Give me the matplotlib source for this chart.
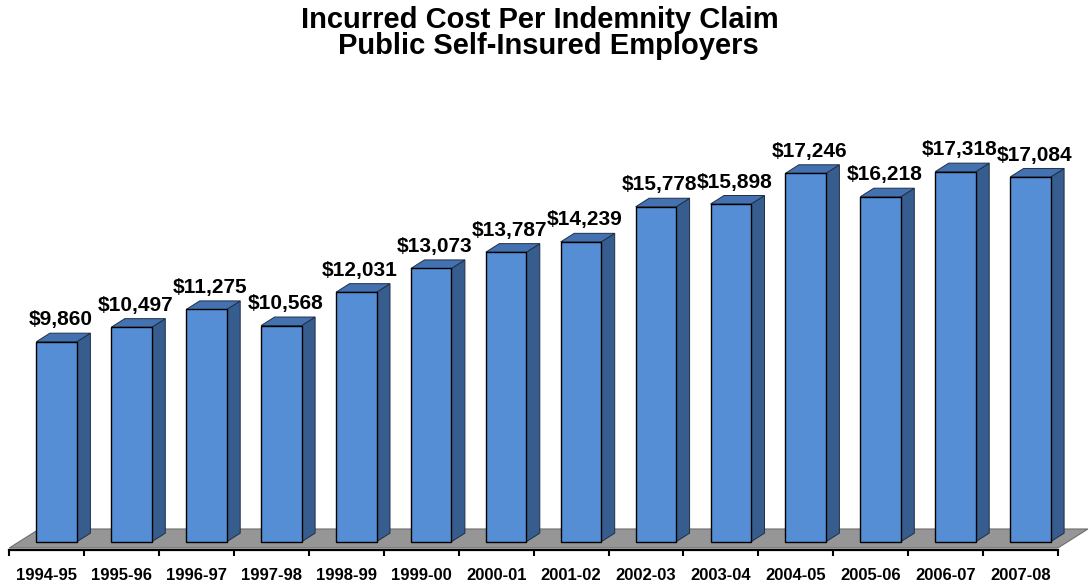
import matplotlib
matplotlib.use("Agg")
import matplotlib.pyplot as plt
from matplotlib.patches import Polygon

plt.rcParams['font.family'] = ['Liberation Sans', 'DejaVu Sans']

# Dati
years = ["1994-95", "1995-96", "1996-97", "1997-98", "1998-99", "1999-00", "2000-01",
         "2001-02", "2002-03", "2003-04", "2004-05", "2005-06", "2006-07", "2007-08"]
cost = [9860, 10497, 11275, 10568, 12031, 13073, 13787,
        14239, 15778, 15898, 17246, 16218, 17318, 17084]
title_1 = "Incurred Cost Per Indemnity Claim"
title_2 = "Public Self-Insured Employers"

# Geometria (pixel della figura 1090x586)
W, H = 1090, 586
px_cat = 74.9          # pixel per categoria
px_val = 0.0228        # pixel per dollaro
axis_min = 1000        # valore sulla linea dell'asse
floor_val = 1088       # bordo anteriore del pavimento
y_top = 19000

depth_dx = 30 / px_cat     # profondita' del pavimento in unita' x
depth_dy = 19 / px_val     # profondita' del pavimento in unita' y
f0, f1 = 0.33, 0.78        # posizione della barra nella profondita'
bar_w = 40.5 / px_cat

front_col = "#558ED5"
side_col = "#375C8E"
top_col = "#4472B0"

fig = plt.figure(figsize=(W / 100, H / 100), dpi=100)
left_px, bottom_px = 9.3, 586 - 550.0
ax = fig.add_axes([left_px / W, bottom_px / H,
                   14 * px_cat / W, (y_top - axis_min) * px_val / H])
ax.set_xlim(-0.5, 13.5)
ax.set_ylim(axis_min, y_top)

# Pavimento grigio
floor = Polygon([(-0.5, floor_val), (13.5, floor_val),
                 (13.5 + depth_dx, floor_val + depth_dy),
                 (-0.5 + depth_dx, floor_val + depth_dy)],
                closed=True, facecolor="#969696", edgecolor="#6e6e6e",
                linewidth=0.8, clip_on=False, zorder=1)
ax.add_patch(floor)

x = list(range(len(years)))
xf = [i + f0 * depth_dx for i in x]
base0 = floor_val + f0 * depth_dy

# Faccia frontale
ax.bar(xf, [v - floor_val for v in cost], width=bar_w, bottom=base0,
       color=front_col, edgecolor="black", linewidth=1.0, zorder=3, clip_on=False)

# Lati e tetti
ddx = (f1 - f0) * depth_dx
ddy = (f1 - f0) * depth_dy
for xi, v in zip(xf, cost):
    xl, xr = xi - bar_w / 2, xi + bar_w / 2
    top0 = v + f0 * depth_dy
    side = Polygon([(xr, base0), (xr + ddx, base0 + ddy), (xr + ddx, top0 + ddy), (xr, top0)],
                   closed=True, facecolor=side_col, edgecolor="#1f2f47", linewidth=0.7,
                   clip_on=False, zorder=2)
    top = Polygon([(xl, top0), (xr, top0), (xr + ddx, top0 + ddy), (xl + ddx, top0 + ddy)],
                  closed=True, facecolor=top_col, edgecolor="#1f2f47", linewidth=0.7,
                  clip_on=False, zorder=2)
    ax.add_patch(side)
    ax.add_patch(top)
    ax.text(xi + 0.05, top0 + 16.5 / px_val, f"${v:,}", ha="center", va="baseline",
            fontsize=15, fontweight="bold", clip_on=False, zorder=5)

# Assi
for s in ["top", "right", "left"]:
    ax.spines[s].set_visible(False)
ax.spines["bottom"].set_linewidth(1.6)
ax.spines["bottom"].set_zorder(4)
ax.set_yticks([])
ax.set_xticks([i - 0.5 for i in range(len(years) + 1)])
ax.set_xticklabels([])
ax.tick_params(axis="x", which="major", length=4, width=1.5, direction="out")
ax.set_xticks(x, minor=True)
ax.set_xticklabels(years, minor=True, fontsize=12, fontweight="bold")
ax.tick_params(axis="x", which="minor", length=0, pad=13)
ax.patch.set_visible(False)

# Titolo
fig.text(540 / W, 1 - 28 / H, title_1, ha="center", va="baseline",
         fontsize=21, fontweight="bold")
fig.text(548 / W, 1 - 54 / H, title_2, ha="center", va="baseline",
         fontsize=21, fontweight="bold")

fig.savefig("out.png", dpi=100)
